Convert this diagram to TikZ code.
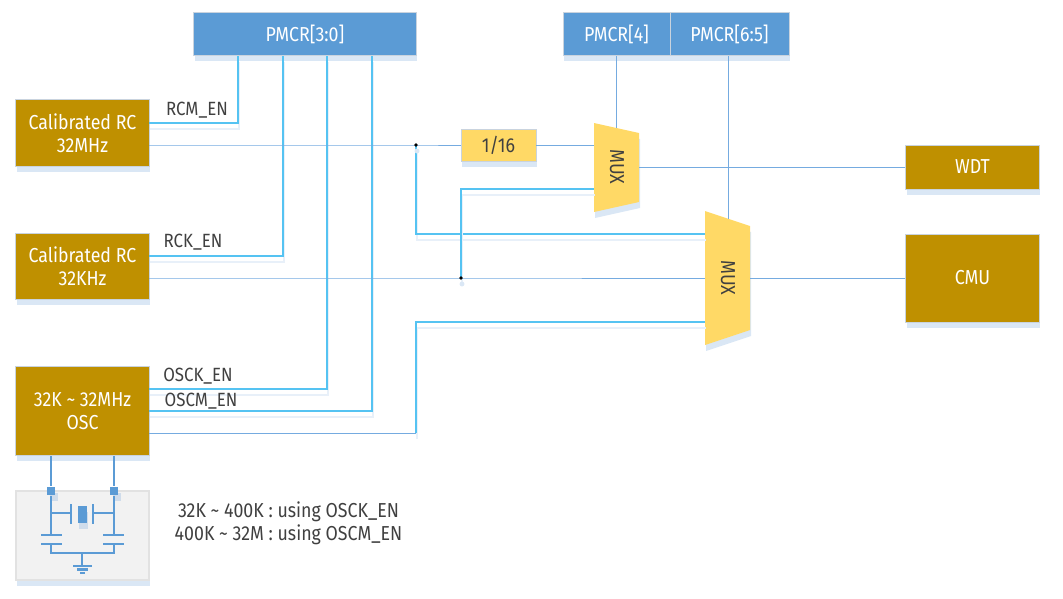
\documentclass[tikz,border=0pt]{standalone}
\usepackage{fontspec}
\setmainfont[FakeStretch=0.88]{Fira Sans}
\usetikzlibrary{shadows}
\definecolor{clkgold}{HTML}{BF9000}
\definecolor{regblue}{HTML}{5B9BD5}
\definecolor{muxyellow}{HTML}{FFD966}
\definecolor{enwirecol}{HTML}{55C3F2}
\definecolor{clkwirecol}{HTML}{75ABE0}
\definecolor{shadecol}{HTML}{DAE7F5}
\definecolor{wireshade}{HTML}{E8F0F9}
\definecolor{labelcol}{HTML}{404040}
\definecolor{edgecol}{HTML}{C9D3DE}
\definecolor{paneledge}{HTML}{E2E2E2}
\definecolor{panelcol}{HTML}{F2F2F2}
\definecolor{padshade}{HTML}{CFDCEB}
\newcommand{\labelFont}[0]{\fontsize{11.5}{13}\selectfont}
\newcommand{\signalFont}[0]{\fontsize{10.9}{13}\selectfont}
\tikzset{
  boxshade/.style={drop shadow={shadow xshift=0.02cm,shadow yshift=-0.12cm,fill=shadecol,opacity=1}},
  anybox/.style={boxshade,draw=edgecol,line width=0.4pt,inner sep=0pt,align=center,font=\labelFont},
  clkbox/.style={anybox,fill=clkgold,text=white,minimum width=2.68cm},
  regbox/.style={anybox,fill=regblue,text=white,minimum height=0.86cm},
  divbox/.style={anybox,fill=muxyellow,text=labelcol,minimum width=1.5cm,minimum height=0.64cm},
  muxbody/.style={boxshade,fill=muxyellow},
  muxtext/.style={rotate=-90,text=labelcol,inner sep=0pt,font=\labelFont},
  siglabel/.style={text=labelcol,inner sep=0pt,font=\signalFont},
  notelabel/.style={text=labelcol,inner sep=0pt,align=center,font=\labelFont},
  clkwire/.style={draw=clkwirecol,line width=0.55pt},
  enwire/.style={draw=enwirecol,line width=0.8pt},
  enshade/.style={preaction={draw=wireshade,line width=0.9pt,transform canvas={shift={(1,6)}}}},
  joindot/.style={circle,fill=black,inner sep=0pt,minimum size=2.2pt},
  dotshade/.style={circle,fill=shadecol,inner sep=0pt,minimum size=2.8pt},
  xtalwire/.style={draw=regblue,line width=1.7pt},
  xtalthin/.style={draw=regblue,line width=1.2pt},
  xtalpad/.style={fill=regblue,inner sep=0pt,minimum size=0.17cm,
    drop shadow={shadow xshift=0.06cm,shadow yshift=-0.12cm,fill=padshade,opacity=1}},
}
\begin{document}
\begin{tikzpicture}[x=0.02cm,y=-0.02cm]
  \useasboundingbox (0,0) rectangle (1063,599);

  \node[regbox,minimum width=4.46cm] (pmcrlow) at (305,34) {PMCR[3:0]};
  \node[regbox,minimum width=2.14cm] (pmcrfour) at (616.5,34) {PMCR[4]};
  \node[regbox,minimum width=2.38cm] (pmcrsix) at (729.5,34) {PMCR[6:5]};

  \node[clkbox,minimum height=1.34cm] (rcmhz) at (82.5,133) {Calibrated RC\\32MHz};
  \node[clkbox,minimum height=1.32cm] (rckhz) at (82.5,266.5) {Calibrated RC\\32KHz};
  \node[clkbox,minimum height=1.78cm] (osc) at (82.5,411) {32K \textasciitilde{} 32MHz\\OSC};
  \node[clkbox,minimum height=0.88cm] (wdt) at (972.5,167) {WDT};
  \node[clkbox,minimum height=1.76cm] (cmu) at (972.5,278) {CMU};
  \node[divbox] (divider) at (498.5,145) {1/16};

  \path[muxbody] (594,123) -- (639,133) -- (639,202) -- (594,212) -- cycle;
  \path[muxbody] (705,211) -- (750,226) -- (750,330) -- (705,345) -- cycle;
  \node[muxtext] (muxa) at (617,167) {MUX};
  \node[muxtext] (muxb) at (728,278) {MUX};

  \coordinate (rcmout) at (149,145);
  \coordinate (rckout) at (149,278);
  \coordinate (rcmen) at (149,123);
  \coordinate (rcken) at (149,256);
  \coordinate (oscken) at (149,389);
  \coordinate (oscmen) at (149,411);
  \coordinate (oscout) at (149,433);
  \coordinate (oscturn) at (416,433);
  \coordinate (regrcm) at (238,56);
  \coordinate (regrck) at (283,56);
  \coordinate (regosck) at (327,56);
  \coordinate (regoscm) at (372,56);
  \coordinate (muxain) at (594,145);
  \coordinate (muxasel) at (594,189);
  \coordinate (muxaout) at (639,167);
  \coordinate (muxatop) at (616,128);
  \coordinate (muxbtop) at (728,219);
  \coordinate (muxbone) at (705,234);
  \coordinate (muxbtwo) at (705,278);
  \coordinate (muxbthree) at (705,322);
  \coordinate (muxbout) at (750,278);
  \coordinate (joinmhz) at (416,145);
  \coordinate (joinkhz) at (461,278);

  \draw[enwire,enshade] (rcmen) -| (regrcm);
  \draw[enwire,enshade] (rcken) -| (regrck);
  \draw[enwire,enshade] (oscken) -| (regosck);
  \draw[enwire,enshade] (oscmen) -| (regoscm);
  \draw[clkwire] (oscout) -- (oscturn);
  \draw[enwire,enshade] (oscturn) |- (muxbthree);
  \draw[enwire,enshade] (joinmhz) |- (muxbone);
  \draw[enwire,enshade] (joinkhz) |- (muxasel);

  \draw[clkwire] (rcmout) -- (joinmhz) -- (divider);
  \draw[clkwire] (divider) -- (muxain);
  \draw[clkwire] (rckout) -- (joinkhz) -- (muxbtwo);
  \draw[clkwire] (muxaout) -- (wdt);
  \draw[clkwire] (muxbout) -- (cmu);
  \draw[clkwire] (muxatop |- regrcm) -- (muxatop);
  \draw[clkwire] (muxbtop |- regrcm) -- (muxbtop);

  \node[dotshade] (shademhz) at (417,151) {};
  \node[dotshade] (shadekhz) at (462,284) {};
  \node[joindot] (dotmhz) at (joinmhz) {};
  \node[joindot] (dotkhz) at (joinkhz) {};

  \node[siglabel] (rcmlabel) at (197,110.5) {RCM\_EN};
  \node[siglabel] (rcklabel) at (193,242) {RCK\_EN};
  \node[siglabel] (osck) at (198,376) {OSCK\_EN};
  \node[siglabel] (oscm) at (201,401) {OSCM\_EN};
  \node[notelabel] (usage) at (288.5,523) {32K \textasciitilde{} 400K : using OSCK\_EN\\400K \textasciitilde{} 32M : using OSCM\_EN};

  \node[boxshade,draw=paneledge,fill=panelcol,line width=0.6pt,minimum width=2.66cm,minimum height=1.78cm,inner sep=0pt] (xtalpanel) at (82.5,535.5) {};
  \coordinate (oscleft) at (51,456);
  \coordinate (oscright) at (114,456);
  \node[xtalpad] (padleft) at (51,491) {};
  \node[xtalpad] (padright) at (114,491) {};
  \node[fill=regblue,minimum width=0.18cm,minimum height=0.34cm,inner sep=0pt,
    drop shadow={shadow xshift=0.02cm,shadow yshift=-0.12cm,fill=padshade,opacity=1}] (crystal) at (82.5,514.5) {};
  \draw[xtalwire] (oscleft) -- (padleft) -- (51,535);
  \draw[xtalwire] (oscright) -- (padright) -- (114,535);
  \draw[xtalwire] (41,535) -- (62,535);
  \draw[xtalwire] (103,535) -- (124,535);
  \draw[xtalwire] (41,544) -- (62,544);
  \draw[xtalwire] (103,544) -- (124,544);
  \draw[xtalthin] (51,513) -- (71,513);
  \draw[xtalthin] (93,513) -- (114,513);
  \draw[xtalwire] (71,504) -- (71,524);
  \draw[xtalwire] (93,504) -- (93,524);
  \draw[xtalwire] (51,544) -- (51,553) -- (114,553) -- (114,544);
  \draw[xtalthin] (82,553) -- (82,566);
  \draw[xtalthin] (73,566) -- (92,566);
  \draw[xtalthin] (77,569.5) -- (88,569.5);
  \draw[xtalthin] (80,573) -- (85,573);
\end{tikzpicture}
\end{document}
